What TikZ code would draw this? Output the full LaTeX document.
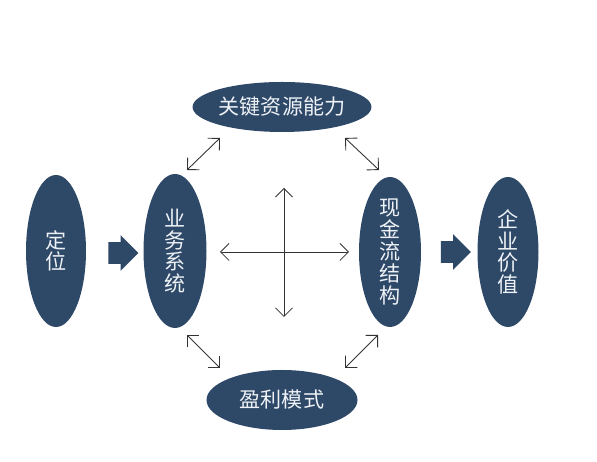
\documentclass[tikz,border=0pt]{standalone}
\usepackage{fontspec}
\setmainfont{Noto Sans CJK SC}
\usetikzlibrary{shapes.geometric,shapes.arrows,arrows.meta}
\definecolor{navy}{HTML}{2E4868}
\definecolor{pale}{HTML}{EEF2F6}
\begin{document}
\begin{tikzpicture}[>={Straight Barb[length=1.7mm,width=3.4mm]},
  blob/.style={ellipse,fill=navy,text=pale,inner sep=0pt,align=center,
    font=\fontsize{12}{12.4}\selectfont},
  blockarrow/.style={single arrow,fill=navy,minimum height=0.6cm,
    single arrow head extend=0.14cm,inner xsep=0pt,inner ysep=0.21cm},
  link/.style={<->,draw=black!80,line width=0.5pt}]
  \useasboundingbox (0,0) rectangle (11.94,9.24);
  % the five stages
  \node[blob,minimum width=1.2cm,minimum height=3.04cm]  (dingwei) at (1.12,4.22) {定\\位};
  \node[blob,minimum width=1.26cm,minimum height=3.08cm] (yewu)    at (3.5,4.22)  {业\\务\\系\\统};
  \node[blob,minimum width=1.24cm,minimum height=3.0cm]  (xianjin) at (7.8,4.2)   {现\\金\\流\\结\\构};
  \node[blob,minimum width=1.22cm,minimum height=3.0cm]  (qiye)    at (10.16,4.2) {企\\业\\价\\值};
  \node[blob,minimum width=3.04cm,minimum height=1.0cm]  (ziyuan)  at (5.64,7.1)  {关键资源能力};
  \node[blob,minimum width=3.02cm,minimum height=1.2cm]  (yingli)  at (5.64,1.24) {盈利模式};
  \node[blockarrow] (go1) at (2.36,4.18) {};
  \node[blockarrow] (go2) at (9.01,4.2) {};
  % the cross in the middle
  \coordinate (cl) at (4.4,4.2);  \coordinate (cr) at (6.98,4.2);
  \coordinate (ct) at (5.68,5.48); \coordinate (cb) at (5.68,2.9);
  \draw[link] (cl) -- (cr);
  \draw[link] (ct) -- (cb);
  % the four diagonals
  \coordinate (ul1) at (3.74,5.84); \coordinate (ul2) at (4.4,6.48);
  \coordinate (ur1) at (6.9,6.48);  \coordinate (ur2) at (7.58,5.84);
  \coordinate (ll1) at (3.74,2.54); \coordinate (ll2) at (4.4,1.88);
  \coordinate (lr1) at (6.9,1.88);  \coordinate (lr2) at (7.56,2.54);
  \draw[link] (ul1) -- (ul2);
  \draw[link] (ur1) -- (ur2);
  \draw[link] (ll1) -- (ll2);
  \draw[link] (lr1) -- (lr2);
\end{tikzpicture}
\end{document}
